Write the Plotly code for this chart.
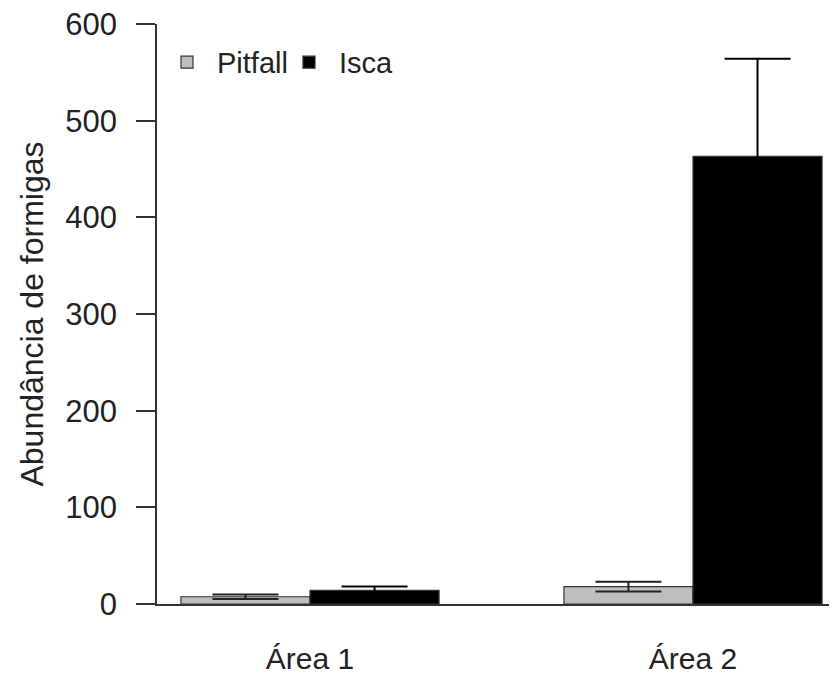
import plotly.graph_objects as go

categories = ["Área 1", "Área 2"]
pitfall_mean = [7.5, 18]
pitfall_err = [2.2, 5]
isca_mean = [14, 463]
isca_err = [4, 101]
y_ticks = [0, 100, 200, 300, 400, 500, 600]

FONT = "Liberation Sans, Arial, sans-serif"

fig = go.Figure()
fig.add_trace(go.Bar(
    name="Pitfall", x=categories, y=pitfall_mean,
    marker=dict(color="#BEBEBE", line=dict(color="#333333", width=1.2)),
    error_y=dict(type="data", array=pitfall_err, visible=True,
                 color="#222222", thickness=2, width=33),
))
fig.add_trace(go.Bar(
    name="Isca", x=categories, y=isca_mean,
    marker=dict(color="#000000", line=dict(color="#333333", width=1.2)),
    error_y=dict(type="data", array=isca_err, visible=True,
                 color="#000000", thickness=2, width=33),
))

# the page body has an 8px margin, so the figure is sized to fit the window
fig.update_layout(
    width=829, height=667,
    margin=dict(l=149, r=0, t=16, b=71),
    paper_bgcolor="white", plot_bgcolor="white",
    barmode="group", bargap=0.326, bargroupgap=0,
    font=dict(family=FONT, size=29, color="#222222"),
    showlegend=True,
    legend=dict(orientation="h", x=0.0, xanchor="left", y=0.934, yanchor="middle",
                font=dict(size=29), bgcolor="rgba(0,0,0,0)",
                itemwidth=50, entrywidth=57, entrywidthmode="pixels", tracegroupgap=0),
    xaxis=dict(range=[-0.3995, 1.376], showgrid=False, zeroline=False, automargin=False,
               showline=True, linecolor="#333333", linewidth=1.5,
               ticks="", ticklabelstandoff=27, tickfont=dict(size=30),
               ticklabeloverflow="allow"),
    yaxis=dict(range=[0, 600], tickvals=y_ticks, showgrid=False, zeroline=False,
               automargin=False, ticklabeloverflow="allow",
               showline=True, linecolor="#333333", linewidth=1.5,
               ticks="outside", ticklen=19, tickwidth=1.5, tickcolor="#333333",
               ticklabelstandoff=13, tickfont=dict(size=31),
               title=dict(text="Abundância de formigas", font=dict(size=32), standoff=12)),
)

fig.write_html("out.html")
